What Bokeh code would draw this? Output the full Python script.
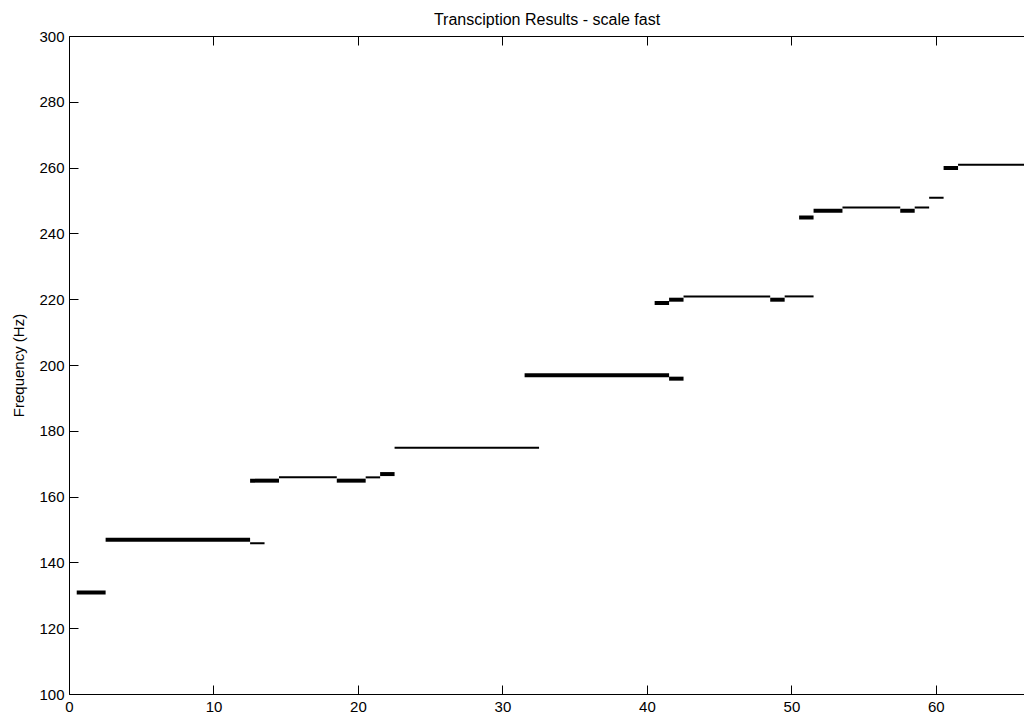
from bokeh.plotting import figure
from bokeh.models import Range1d, LinearAxis, FixedTicker
from bokeh.embed import file_html
from bokeh.resources import INLINE

# ---- data (time frames vs. detected frequency in Hz) ----
# notes drawn with a heavy stroke
thick_start = [0.5, 2.5, 12.5, 18.5, 21.5, 31.5, 41.5, 40.5, 41.5, 48.5, 50.5, 51.5, 57.5, 60.5]
thick_end   = [2.5, 12.5, 14.5, 20.5, 22.5, 41.5, 42.5, 41.5, 42.5, 49.5, 51.5, 53.5, 58.5, 61.5]
thick_freq  = [131, 147, 165, 165, 167, 197, 196, 219, 220, 220, 245, 247, 247, 260]

# notes drawn with a light stroke
thin_start = [12.5, 14.5, 20.5, 22.5, 42.5, 49.5, 53.5, 58.5, 59.5, 61.5]
thin_end   = [13.5, 18.5, 21.5, 32.5, 48.5, 51.5, 57.5, 59.5, 60.5, 66.5]
thin_freq  = [146, 166, 166, 175, 221, 221, 248, 248, 251, 261]

x_ticks = [0, 10, 20, 30, 40, 50, 60]
y_ticks = [100, 120, 140, 160, 180, 200, 220, 240, 260, 280, 300]

FONT = "Liberation Sans"

p = figure(width=1024, height=715,
           x_range=Range1d(0, 66.1), y_range=Range1d(100, 300),
           output_backend="svg", toolbar_location=None,
           x_axis_location=None, y_axis_location=None,
           min_border_left=69, min_border_right=0,
           min_border_top=36, min_border_bottom=21,
           title="Transciption Results - scale fast")
p.outline_line_color = None
p.background_fill_color = "white"
p.border_fill_color = "white"
p.grid.visible = False

p.title.align = "center"
p.title.text_font = FONT
p.title.text_font_size = "16px"
p.title.text_font_style = "normal"
p.title.text_color = "black"
p.title.standoff = 17
p.title.offset = 0


def style_axis(ax, labels=True):
    ax.axis_line_color = "black"
    ax.axis_line_width = 1
    ax.major_tick_line_color = "black"
    ax.major_tick_in = 9
    ax.major_tick_out = 0
    ax.minor_tick_line_color = None
    ax.major_label_text_font = FONT
    ax.major_label_text_color = "black"
    if labels:
        ax.major_label_text_font_size = "15px"
    else:
        ax.major_label_text_font_size = "0px"
        ax.major_label_text_color = None
        ax.major_label_standoff = 0


xb = LinearAxis(ticker=FixedTicker(ticks=x_ticks))
style_axis(xb)
xb.major_label_standoff = 7
p.add_layout(xb, "below")

xt = LinearAxis(ticker=FixedTicker(ticks=x_ticks))
style_axis(xt, labels=False)
p.add_layout(xt, "above")

yl = LinearAxis(ticker=FixedTicker(ticks=y_ticks), axis_label="Frequency (Hz)")
style_axis(yl)
yl.major_label_standoff = 5
yl.axis_label_text_font = FONT
yl.axis_label_text_font_size = "15px"
yl.axis_label_text_font_style = "normal"
yl.axis_label_text_color = "black"
yl.axis_label_standoff = 9
p.add_layout(yl, "left")

p.segment(x0=thick_start, x1=thick_end, y0=thick_freq, y1=thick_freq,
          line_color="black", line_width=4, line_cap="butt")
p.segment(x0=thin_start, x1=thin_end, y0=thin_freq, y1=thin_freq,
          line_color="black", line_width=2, line_cap="butt")

open("out.html", "w").write(file_html(p, INLINE))
